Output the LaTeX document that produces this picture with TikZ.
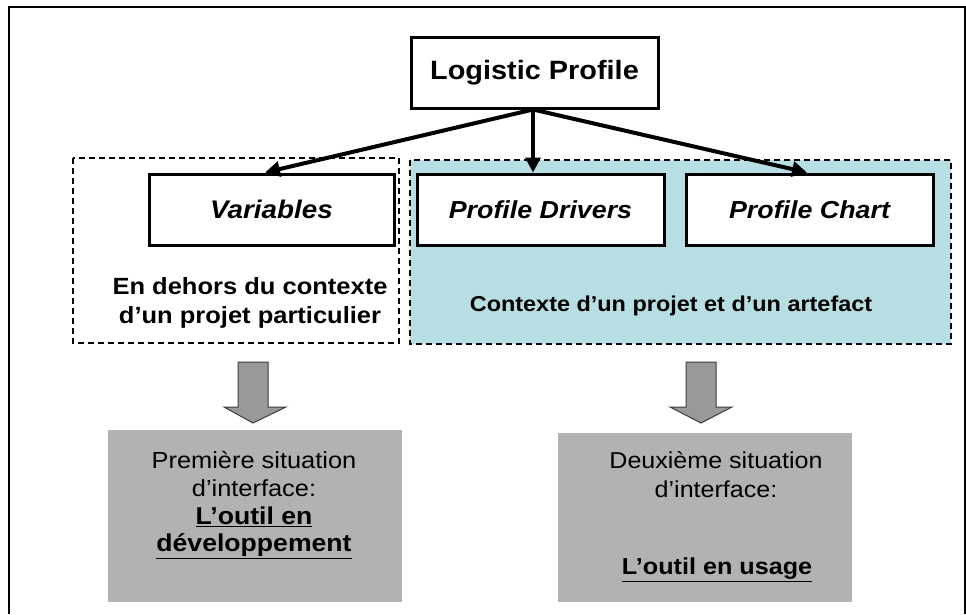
\documentclass[tikz,border=0pt]{standalone}
\usepackage{fontspec}
\setmainfont{Liberation Sans}[FakeStretch=1.09]
\usetikzlibrary{arrows.meta,positioning,calc}
\definecolor{cyanfill}{RGB}{183,222,226}
\definecolor{grayfill}{RGB}{178,178,178}
\definecolor{arrowfill}{RGB}{153,153,153}
\definecolor{arrowline}{RGB}{60,60,60}
\tikzset{
  box/.style={draw=black, line width=3pt, fill=white, minimum height=71pt, inner sep=0pt},
  zone/.style={draw=black, line width=2.2pt, dash pattern=on 6pt off 4pt},
  link/.style={line width=4pt, -{Triangle[length=15pt,width=15pt]}},
  bigarrow/.style={draw=arrowline, fill=arrowfill, line width=1pt, line join=miter},
  situation/.style={fill=grayfill, draw=none},
  txt/.style={inner sep=0pt, anchor=center}
}
\begin{document}
\begin{tikzpicture}[x=1pt,y=-1pt]
\useasboundingbox (0,0) rectangle (966,614);
% outer frame
\draw[line width=1.5pt, black] (9,614) -- (9,7) -- (965,7) -- (965,614);
% context zones
\draw[zone, fill=cyanfill] (410,160) rectangle (951,344);
\draw[zone] (73,158) rectangle (399,343);
% nodes
\node[box, minimum width=247pt] (lp) at (534.5,72.5) {\fontsize{26.5}{30}\selectfont\bfseries Logistic Profile};
\node[box, minimum width=245pt] (var) at (271.5,209.5) {\fontsize{25.5}{30}\selectfont\bfseries\itshape Variables};
\node[box, minimum width=247pt] (pd) at (540.5,209.5) {\fontsize{24.6}{30}\selectfont\bfseries\itshape Profile Drivers};
\node[box, minimum width=247pt] (pc) at (809.5,209.5) {\fontsize{24.6}{30}\selectfont\bfseries\itshape Profile Chart};
% connectors
\coordinate (src) at ([xshift=-1.5pt]lp.south);
\draw[link, line width=3.5pt] (src) -- (src |- pd.north);
\draw[link] (src) -- ([xshift=-6.5pt]var.north);
\draw[link] (src) -- ([xshift=-2.5pt]pc.north);
% zone labels
\node[txt, align=center, font=\fontsize{23.4}{29}\selectfont\bfseries] (outside) at (250,302.5) {En dehors du contexte\\d’un projet particulier};
\node[txt, font=\fontsize{21.5}{26}\selectfont\bfseries] (inside) at (671,306) {Contexte d’un projet et d’un artefact};
% big down arrows
\draw[bigarrow] (238,362) -- (268,362) -- (268,407) -- (286,407) -- (253,423) -- (224,407) -- (238,407) -- cycle;
\draw[bigarrow] (686,362) -- (716,362) -- (716,407) -- (732,407) -- (701,423) -- (670,407) -- (686,407) -- cycle;
% situation boxes
\node[situation, minimum width=294pt, minimum height=172pt, inner sep=0pt] (s1) at (255,516) {};
\node[situation, minimum width=294pt, minimum height=169pt, inner sep=0pt] (s2) at (705,517.5) {};
\node[txt, font=\fontsize{23.3}{28}\selectfont] (s1a) at (254,460) {Première situation};
\node[txt, font=\fontsize{23.3}{28}\selectfont] (s1b) at (254,488) {d’interface:};
\node[txt, font=\fontsize{24.4}{28}\selectfont\bfseries] (s1c) at (254,517) {\underline{L’outil en}};
\node[txt, font=\fontsize{24.4}{28}\selectfont\bfseries] (s1d) at (254,546) {\underline{développement}};
\node[txt, font=\fontsize{23}{28}\selectfont] (s2a) at (716,460) {Deuxième situation};
\node[txt, font=\fontsize{23}{28}\selectfont] (s2b) at (716,489) {d’interface:};
\node[txt, font=\fontsize{23.1}{28}\selectfont\bfseries] (s2c) at (717,570) {\underline{L’outil en usage}};
\end{tikzpicture}
\end{document}
